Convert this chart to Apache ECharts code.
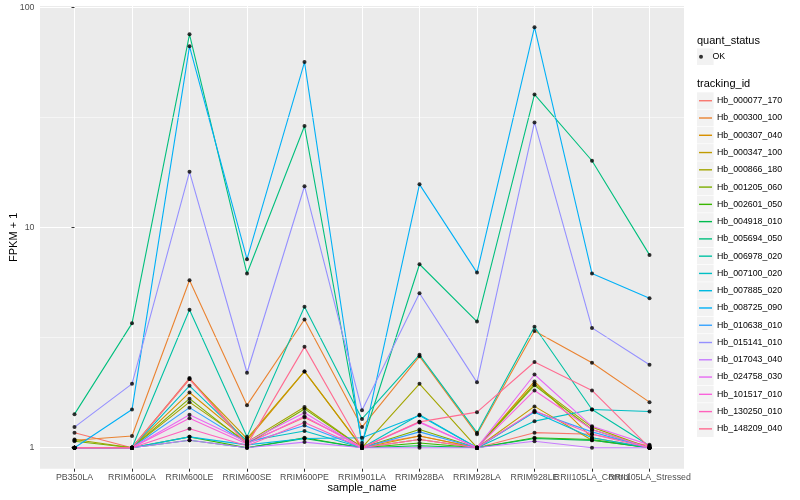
<!DOCTYPE html>
<html>
<head>
<meta charset="utf-8">
<script src="https://cdn.jsdelivr.net/npm/echarts@6/dist/echarts.min.js"></script>
<style>html,body{margin:0;padding:0;background:#fff;}#c{width:800px;height:500px;}</style>
</head>
<body>
<div id="c"></div>
<script>
const categories = ['PB350LA','RRIM600LA','RRIM600LE','RRIM600SE','RRIM600PE','RRIM901LA','RRIM928BA','RRIM928LA','RRIM928LE','RRII105LA_Control','RRII105LA_Stressed'];
const trackingIds = ['Hb_000077_170','Hb_000300_100','Hb_000307_040','Hb_000347_100','Hb_000866_180','Hb_001205_060','Hb_002601_050','Hb_004918_010','Hb_005694_050','Hb_006978_020','Hb_007100_020','Hb_007885_020','Hb_008725_090','Hb_010638_010','Hb_015141_010','Hb_017043_040','Hb_024758_030','Hb_101517_010','Hb_130250_010','Hb_148209_040'];
const colors = ['#F8766D','#EA8331','#D89000','#C09B00','#A3A500','#7CAE00','#39B600','#00BB4E','#00BF7D','#00C1A3','#00BFC4','#00BAE0','#00B0F6','#35A2FF','#9590FF','#C77CFF','#E76BF3','#FA62DB','#FF62BC','#FF6C91'];
const hb_000077_170 = [1.17, 1.00, 2.07, 1.05, 1.37, 1.02, 1.13, 1.00, 1.17, 1.15, 1.02];
const hb_000300_100 = [1.08, 1.13, 5.76, 1.56, 3.82, 1.24, 2.60, 1.15, 3.39, 2.43, 1.61];
const hb_000307_040 = [1.00, 1.00, 1.78, 1.08, 2.22, 1.00, 1.13, 1.00, 2.00, 1.11, 1.00];
const hb_000347_100 = [1.00, 1.00, 2.05, 1.10, 2.22, 1.00, 1.09, 1.00, 1.54, 1.08, 1.00];
const hb_000866_180 = [1.09, 1.00, 1.61, 1.06, 1.53, 1.00, 1.95, 1.00, 1.95, 1.24, 1.00];
const hb_001205_060 = [1.07, 1.00, 1.67, 1.04, 1.50, 1.00, 1.21, 1.00, 1.92, 1.21, 1.00];
const hb_002601_050 = [1.00, 1.00, 1.12, 1.00, 1.11, 1.00, 1.05, 1.00, 1.11, 1.09, 1.00];
const hb_004918_010 = [1.00, 1.00, 1.08, 1.00, 1.10, 1.00, 1.02, 1.00, 1.10, 1.08, 1.00];
const hb_005694_050 = [1.42, 3.67, 75.4, 6.18, 28.9, 1.05, 6.81, 3.74, 40.2, 20.1, 7.51];
const hb_006978_020 = [1.00, 1.00, 4.23, 1.12, 4.37, 1.35, 2.64, 1.17, 3.54, 1.49, 1.02];
const hb_007100_020 = [1.00, 1.00, 1.91, 1.07, 1.19, 1.00, 1.41, 1.00, 1.32, 1.49, 1.46];
const hb_007885_020 = [1.00, 1.00, 1.12, 1.03, 1.10, 1.11, 1.40, 1.00, 1.45, 1.11, 1.00];
const hb_008725_090 = [1.00, 1.49, 66.5, 7.18, 56.4, 1.02, 15.7, 6.24, 81.3, 6.18, 4.77];
const hb_010638_010 = [1.00, 1.00, 1.52, 1.05, 1.26, 1.00, 1.18, 1.00, 1.46, 1.18, 1.00];
const hb_015141_010 = [1.24, 1.95, 17.9, 2.19, 15.4, 1.48, 5.03, 1.98, 30.0, 3.50, 2.38];
const hb_017043_040 = [1.00, 1.00, 1.08, 1.00, 1.06, 1.00, 1.00, 1.00, 1.07, 1.00, 1.00];
const hb_024758_030 = [1.00, 1.00, 1.41, 1.06, 1.44, 1.00, 1.30, 1.00, 2.15, 1.25, 1.03];
const hb_101517_010 = [1.00, 1.00, 1.36, 1.04, 1.39, 1.00, 1.31, 1.00, 1.82, 1.21, 1.00];
const hb_130250_010 = [1.00, 1.00, 1.22, 1.02, 1.30, 1.00, 1.09, 1.00, 1.47, 1.15, 1.00];
const hb_148209_040 = [1.00, 1.00, 2.05, 1.03, 2.87, 1.00, 1.31, 1.45, 2.45, 1.82, 1.00];
const yTicks = [1, 10, 100];
const yMinor = [Math.sqrt(10), Math.sqrt(1000)];

const seriesValues = [hb_000077_170, hb_000300_100, hb_000307_040, hb_000347_100, hb_000866_180, hb_001205_060, hb_002601_050, hb_004918_010, hb_005694_050, hb_006978_020, hb_007100_020, hb_007885_020, hb_008725_090, hb_010638_010, hb_015141_010, hb_017043_040, hb_024758_030, hb_101517_010, hb_130250_010, hb_148209_040];
const idx = categories.map((c, i) => i);
// labels that would be hidden as overlapping get drawn by a second, label-only axis
const idxMain = idx.filter(i => i % 2 === 0);
const idxAlt = idx.filter(i => i % 2 === 1);
const FONT = '"Liberation Sans", Arial, Helvetica, sans-serif';

const series = [];
series.push({
  type: 'line', name: '_minor', data: [], z: 1, silent: true,
  markLine: {
    silent: true, symbol: 'none', label: {show: false},
    lineStyle: {color: '#ffffff', width: 0.5, type: 'solid'},
    emphasis: {disabled: true},
    data: yMinor.map(v => ({yAxis: v}))
  }
});
trackingIds.forEach((id, k) => {
  series.push({
    type: 'line', name: id, showSymbol: false, silent: true, z: 2,
    color: colors[k],
    lineStyle: {color: colors[k], width: 1.1},
    emphasis: {disabled: true},
    data: seriesValues[k].map((v, i) => [i, v])
  });
});
const pts = [];
seriesValues.forEach(arr => arr.forEach((v, i) => pts.push([i, v])));
series.push({
  type: 'scatter', name: 'OK', symbol: 'circle', symbolSize: 4, z: 10, silent: true,
  itemStyle: {color: '#000'}, data: pts
});

const graphics = [
  {type: 'text', left: 697, top: 35, style: {text: 'quant_status', font: '11px ' + FONT, fill: '#000'}},
  {type: 'rect', shape: {x: 697, y: 48.4, width: 16.6, height: 16.6}, style: {fill: '#F2F2F2'}, z: -1},
  {type: 'text', left: 697, top: 78.5, style: {text: 'tracking_id', font: '11px ' + FONT, fill: '#000'}}
];
trackingIds.forEach((id, k) => {
  graphics.push({type: 'rect', shape: {x: 697, y: 92.3 + k * 17.27, width: 16.6, height: 16.6}, style: {fill: '#F2F2F2'}, z: -1});
});

const labelStyle = {formatter: v => categories[v], fontSize: 8.8, color: '#4D4D4D', margin: 4, fontFamily: FONT, hideOverlap: false, showMinLabel: true, showMaxLabel: true};

const chart = echarts.init(document.getElementById('c'), null, {renderer: 'canvas'});
chart.setOption({
  animation: false,
  backgroundColor: '#ffffff',
  textStyle: {fontFamily: FONT},
  grid: {left: 40, right: 116, top: 6, bottom: 31.3, show: true, backgroundColor: '#EBEBEB', borderWidth: 0, containLabel: false, outerBoundsMode: 'none'},
  xAxis: [
    {
      type: 'value', min: -0.6, max: 10.6, position: 'bottom',
      name: 'sample_name', nameLocation: 'middle', nameGap: 14, nameMoveOverlap: false,
      nameTextStyle: {fontSize: 11, color: '#000', fontFamily: FONT},
      axisLine: {show: false},
      axisTick: {show: true, customValues: idx, length: 3, lineStyle: {color: '#333333', width: 1}},
      axisLabel: Object.assign({customValues: idxMain}, labelStyle),
      splitLine: {show: true, lineStyle: {color: '#ffffff', width: 1}}
    },
    {
      type: 'value', min: -0.6, max: 10.6, position: 'bottom', offset: 0,
      axisLine: {show: false},
      axisTick: {show: false, customValues: idxAlt},
      axisLabel: Object.assign({customValues: idxAlt}, labelStyle),
      splitLine: {show: false}
    }
  ],
  yAxis: {
    type: 'log', logBase: 10, min: 0.8027, max: 101.4,
    name: 'FPKM + 1', nameLocation: 'middle', nameGap: 21, nameMoveOverlap: false,
    nameTextStyle: {fontSize: 11, color: '#000', fontFamily: FONT},
    axisLine: {show: false},
    axisTick: {show: true, customValues: yTicks, length: 3, lineStyle: {color: '#333333', width: 1}},
    axisLabel: {customValues: yTicks, fontSize: 8.8, color: '#4D4D4D', margin: 5.5, fontFamily: FONT, showMinLabel: true, showMaxLabel: true},
    splitLine: {show: true, lineStyle: {color: '#ffffff', width: 1}},
    minorSplitLine: {show: false}
  },
  legend: [
    {
      data: ['OK'], left: 699, top: 48.2, orient: 'vertical', padding: 0,
      icon: 'circle', itemWidth: 13, itemHeight: 4, itemGap: 0,
      selectedMode: false,
      textStyle: {fontSize: 8.8, color: '#000', fontFamily: FONT, lineHeight: 17}
    },
    {
      data: trackingIds, left: 699, top: 92.1, orient: 'vertical', padding: 0,
      icon: 'rect', itemWidth: 13, itemHeight: 1.4, itemGap: 0,
      selectedMode: false,
      textStyle: {fontSize: 8.8, color: '#000', fontFamily: FONT, lineHeight: 17.27}
    }
  ],
  graphic: graphics,
  series: series
});
</script>
</body>
</html>
